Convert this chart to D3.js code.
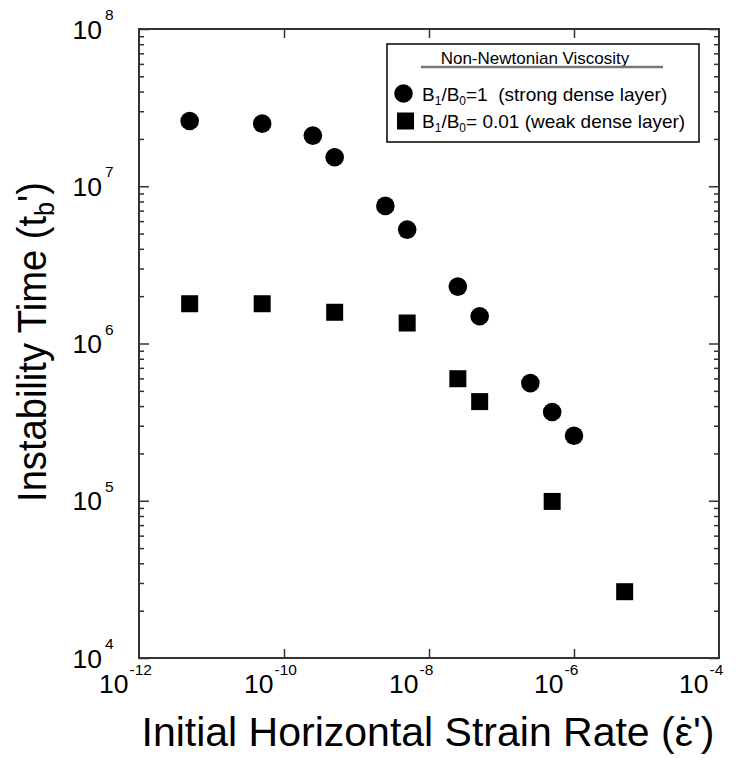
<!DOCTYPE html>
<html lang="en">
<head>
  <meta charset="utf-8">
  <title>Instability time vs strain rate</title>
  <script src="https://d3js.org/d3.v7.min.js"></script>
  <style>
    body { margin: 0; background: #fff; }
    text { font-family: "Liberation Sans", Arial, sans-serif; fill: #000; }
    .tick line { stroke: #333; stroke-width: 1.5; }
  </style>
</head>
<body>
  <script>
    // strong dense layer, B1/B0 = 1 (circles)
    var strongX = [5e-12, 5e-11, 2.5e-10, 5e-10, 2.5e-9, 5e-9, 2.5e-8, 5e-8, 2.5e-7, 5e-7, 1e-6];
    var strongY = [2.6e7, 2.5e7, 2.1e7, 1.53e7, 7.5e6, 5.3e6, 2.3e6, 1.49e6, 5.6e5, 3.67e5, 2.59e5];
    // weak dense layer, B1/B0 = 0.01 (squares)
    var weakX = [5e-12, 5e-11, 5e-10, 5e-9, 2.5e-8, 5e-8, 5e-7, 5e-6];
    var weakY = [1.79e6, 1.79e6, 1.58e6, 1.35e6, 5.97e5, 4.27e5, 9.9e4, 2.64e4];

    var xTicks = [-12, -10, -8, -6, -4];
    var yTicks = [4, 5, 6, 7, 8];

    var w = 736, h = 761;
    var margin = {top: 29, right: 17, bottom: 103, left: 139};
    var innerW = w - margin.left - margin.right,
      innerH = h - margin.top - margin.bottom;

    var x = d3.scaleLog().domain([1e-12, 1e-4]).range([0, innerW]);
    var y = d3.scaleLog().domain([1e4, 1e8]).range([innerH, 0]);

    var yMinor = [];
    yTicks.slice(0, -1).forEach(function(e) {
      for (var m = 2; m <= 9; m++) yMinor.push(m * Math.pow(10, e));
    });
    var xInner = xTicks.slice(1, -1).map(function(e) { return Math.pow(10, e); });

    var svg = d3.select('body').append('svg')
        .attr('width', w)
        .attr('height', h)
      .append('g')
        .attr('transform', 'translate(' + [margin.left, margin.top] + ')');

    function ticks(axis, tx) {
      var g = svg.append('g').attr('transform', tx || null).call(axis);
      g.select('.domain').remove();
    }
    var yMaj = yTicks.map(function(e) { return Math.pow(10, e); });
    ticks(d3.axisLeft(y).tickValues(yMaj).tickSize(-10).tickFormat(''));
    ticks(d3.axisLeft(y).tickValues(yMinor).tickSize(-5).tickFormat(''));
    ticks(d3.axisRight(y).tickValues(yMaj).tickSize(-10).tickFormat(''), 'translate(' + innerW + ',0)');
    ticks(d3.axisRight(y).tickValues(yMinor).tickSize(-5).tickFormat(''), 'translate(' + innerW + ',0)');
    ticks(d3.axisBottom(x).tickValues(xInner).tickSize(-9).tickFormat(''), 'translate(0,' + innerH + ')');
    ticks(d3.axisTop(x).tickValues(xInner).tickSize(-9).tickFormat(''));

    svg.append('rect')
      .attr('width', innerW)
      .attr('height', innerH)
      .attr('fill', 'none')
      .attr('stroke', '#333')
      .attr('stroke-width', 2);

    // tick labels with superscript exponents
    svg.selectAll('.ylab')
      .data(yTicks)
    .enter().append('text')
      .attr('class', 'ylab')
      .attr('y', function(d) { return y(Math.pow(10, d)) + 9.5; })
      .attr('x', -37)
      .attr('text-anchor', 'end')
      .style('font-size', '26.5px')
      .text('10');
    svg.selectAll('.ysup')
      .data(yTicks)
    .enter().append('text')
      .attr('class', 'ysup')
      .attr('y', function(d) { return y(Math.pow(10, d)) - 9; })
      .attr('x', -34)
      .style('font-size', '15.5px')
      .text(function(d) { return d; });

    svg.selectAll('.xlab')
      .data(xTicks)
    .enter().append('text')
      .attr('class', 'xlab')
      .attr('x', function(d) { return x(Math.pow(10, d)) - 10.5; })
      .attr('y', innerH + 35)
      .attr('text-anchor', 'end')
      .style('font-size', '26.5px')
      .text('10');
    svg.selectAll('.xsup')
      .data(xTicks)
    .enter().append('text')
      .attr('class', 'xsup')
      .attr('x', function(d) { return x(Math.pow(10, d)) - 9.5; })
      .attr('y', innerH + 17)
      .style('font-size', '15.5px')
      .text(function(d) { return d; });

    // markers
    svg.selectAll('.dot')
      .data(d3.zip(strongX, strongY))
    .enter().append('circle')
      .attr('class', 'dot')
      .attr('cx', function(d) { return x(d[0]); })
      .attr('cy', function(d) { return y(d[1]); })
      .attr('r', 9.3)
      .attr('fill', '#000');

    var sq = 17;
    svg.selectAll('.sq')
      .data(d3.zip(weakX, weakY))
    .enter().append('rect')
      .attr('class', 'sq')
      .attr('x', function(d) { return x(d[0]) - sq / 2; })
      .attr('y', function(d) { return y(d[1]) - sq / 2; })
      .attr('width', sq)
      .attr('height', sq)
      .attr('fill', '#000');

    // axis titles
    var xPre = 'Initial Horizontal Strain Rate (\u03b5';
    var xt = svg.append('text')
      .attr('x', 2.5)
      .attr('y', innerH + 88)
      .style('font-size', '41px');
    xt.append('tspan').text(xPre);
    var dotSpan = xt.append('tspan').text('\u02d9');
    var tailSpan = xt.append('tspan').text('\')');
    // centre the dot accent over the epsilon
    var epsW = xt.node().getSubStringLength(xPre.length - 1, 1);
    var dotW = dotSpan.node().getComputedTextLength();
    dotSpan.attr('dx', -(epsW + dotW) / 2 + 1);
    tailSpan.attr('dx', (epsW - dotW) / 2 - 1);

    var yt = svg.append('text')
      .attr('transform', 'translate(' + (46 - margin.left) + ',' + (342 - margin.top) + ') rotate(-90) scale(0.93,1)')
      .attr('text-anchor', 'middle')
      .style('font-size', '41px');
    yt.append('tspan').text('Instability Time (t');
    yt.append('tspan').attr('dy', 8).style('font-size', '27px').text('b');
    yt.append('tspan').attr('dy', -8).text('\')');

    // legend
    var lg = svg.append('g').attr('transform', 'translate(' + (387 - margin.left) + ',' + (44 - margin.top) + ')');
    lg.append('rect')
      .attr('width', 312)
      .attr('height', 98)
      .attr('fill', '#fff')
      .attr('stroke', '#000')
      .attr('stroke-width', 1.5);
    lg.append('text')
      .attr('x', 148)
      .attr('y', 19.5)
      .attr('text-anchor', 'middle')
      .style('font-size', '17px')
      .text('Non-Newtonian Viscosity');
    lg.append('line')
      .attr('x1', 34).attr('x2', 276)
      .attr('y1', 23).attr('y2', 23)
      .attr('stroke', '#777')
      .attr('stroke-width', 2.5);

    lg.append('circle').attr('cx', 16.5).attr('cy', 49.5).attr('r', 9.3).attr('fill', '#000');
    lg.append('rect').attr('x', 18.5 - sq / 2).attr('y', 77 - sq / 2)
      .attr('width', sq).attr('height', sq).attr('fill', '#000');

    function entry(ty, tail) {
      var t = lg.append('text').attr('x', 35).attr('y', ty).style('font-size', '19px');
      t.append('tspan').text('B');
      t.append('tspan').attr('dy', 4).style('font-size', '12px').text('1');
      t.append('tspan').attr('dy', -4).text('/B');
      t.append('tspan').attr('dy', 4).style('font-size', '12px').text('0');
      t.append('tspan').attr('dy', -4).text(tail);
    }
    entry(56.5, '=1\u00a0 (strong dense layer)');
    entry(84, '= 0.01 (weak dense layer)');
  </script>
</body>
</html>
